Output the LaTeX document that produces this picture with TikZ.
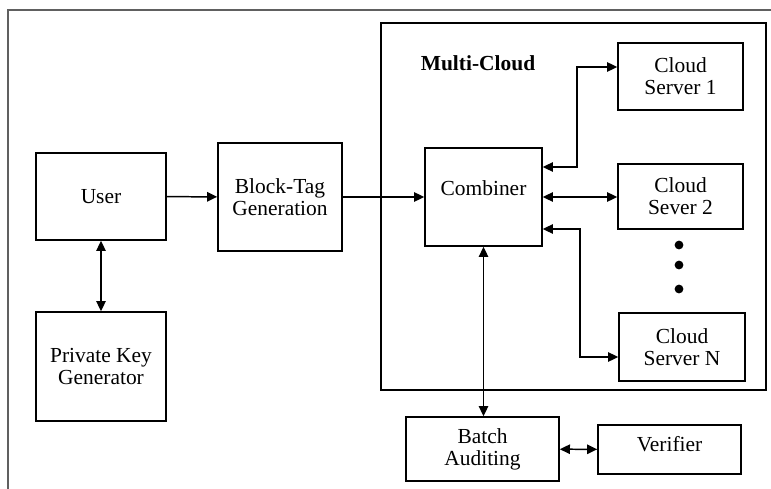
\documentclass[tikz,border=0pt]{standalone}
\usepackage{fontspec}
\setmainfont{Liberation Serif}
\usetikzlibrary{arrows.meta}

\tikzset{
  blk/.style={draw, line width=0.9pt, align=center, inner sep=1pt},
}

\begin{document}
\fontsize{12.2pt}{12.6pt}\selectfont
\begin{tikzpicture}[>={Triangle[length=5.8pt,width=5.4pt]}, line width=0.85pt]
\useasboundingbox (0,0) rectangle (15.42,-9.76);

% outer frame
\path [draw, line width=1.2pt, gray!75!black](0.16,-9.9) -- (0.16,-0.2) -- (15.6,-0.2);

\node (MC) at (11.47,-4.13) [blk, minimum width=7.7cm, minimum height=7.34cm]{};
\node (MC-t) at (9.56,-1.26) {\bfseries Multi-Cloud};

\node (User) at (2.02,-3.93) [blk, minimum width=2.6cm, minimum height=1.74cm]{User};
\node (PKG) at (2.02,-7.33) [blk, minimum width=2.6cm, minimum height=2.18cm]{Private Key\\Generator};
\node (BTG) at (5.6,-3.94) [blk, minimum width=2.48cm, minimum height=2.16cm]{Block-Tag\\Generation};

\node (Comb) at (9.67,-3.94) [blk, minimum width=2.34cm, minimum height=1.96cm, text depth=0.36cm]{Combiner};

\node (CS-1) at (13.61,-1.53) [blk, minimum width=2.5cm, minimum height=1.34cm]{Cloud\\Server 1};
\node (CS-2) at (13.61,-3.93) [blk, minimum width=2.5cm, minimum height=1.3cm]{Cloud\\Sever 2};
\node (CS-N) at (13.64,-6.94) [blk, minimum width=2.52cm, minimum height=1.36cm]{Cloud\\Server N};

\node (D-1) at (13.58,-4.9) [circle, fill, inner sep=0pt, minimum size=5pt]{};
\node (D-2) at (13.58,-5.3) [circle, fill, inner sep=0pt, minimum size=5pt]{};
\node (D-3) at (13.58,-5.78) [circle, fill, inner sep=0pt, minimum size=5pt]{};

\node (BA) at (9.65,-8.98) [blk, minimum width=3.06cm, minimum height=1.28cm]{Batch\\Auditing};
\node (Ver) at (13.39,-8.99) [blk, minimum width=2.86cm, minimum height=0.98cm, text depth=0.22cm]{Verifier};

\draw [->] (User) -- (BTG);
\draw [<->] (User) -- (PKG);
\draw [->] (BTG) -- (Comb);

\draw [<->] ([yshift=0.6cm]Comb.east) -- ++(0.68,0) |- ([yshift=0.19cm]CS-1.west);
\draw [<->] (Comb.east) -- (Comb.east -| CS-2.west);
\draw [<->] ([yshift=-0.64cm]Comb.east) -- ++(0.74,0) |- ([yshift=-0.2cm]CS-N.west);

\draw [<->] (Comb.south) -- (Comb.south |- BA.north);
\draw [<->] (BA) -- (Ver);

\end{tikzpicture}
\end{document}
